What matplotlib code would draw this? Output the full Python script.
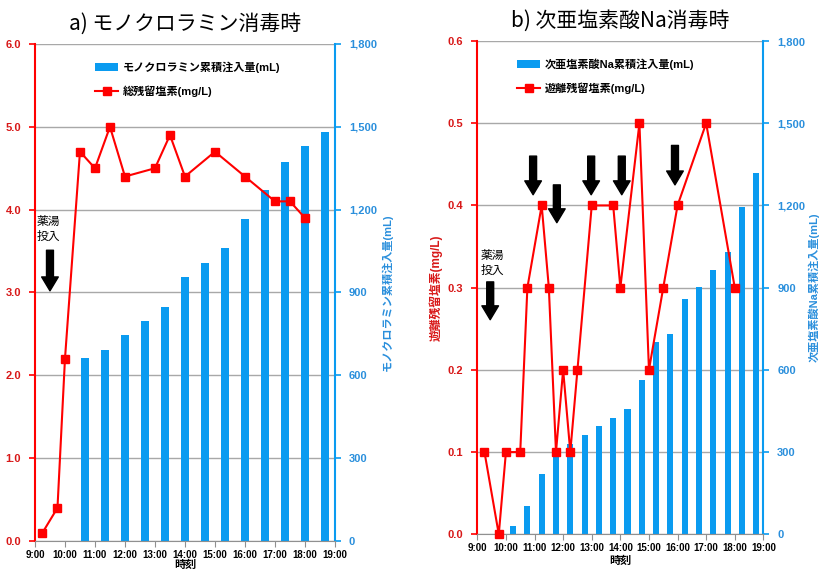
import numpy as np
import matplotlib
matplotlib.use("Agg")
import matplotlib.pyplot as plt
from matplotlib.ticker import FuncFormatter

plt.rcParams['font.family'] = ['Liberation Sans', 'Noto Sans CJK JP']

# ---- data ----
hour_labels = ["9:00", "10:00", "11:00", "12:00", "13:00", "14:00", "15:00",
               "16:00", "17:00", "18:00", "19:00"]

# a) monochloramine
times_a = ["9:15", "9:45", "10:00", "10:30", "11:00", "11:30", "12:00", "13:00",
           "13:30", "14:00", "15:00", "16:00", "17:00", "17:30", "18:00"]
total_cl = [0.1, 0.4, 2.2, 4.7, 4.5, 5.0, 4.4, 4.5, 4.9, 4.4, 4.7, 4.4, 4.1, 4.1, 3.9]
mono_inj = [0, 0, 664, 691, 745, 797, 849, 955, 1007, 1062, 1165, 1272, 1374, 1430, 1481]

# b) sodium hypochlorite
times_b = ["9:15", "9:45", "10:00", "10:30", "10:45", "11:15", "11:30", "11:45",
           "12:00", "12:15", "12:30", "13:00", "13:45", "14:00", "14:40", "15:00",
           "15:30", "16:00", "17:00", "18:00"]
free_cl = [0.1, 0.0, 0.1, 0.1, 0.3, 0.4, 0.3, 0.1, 0.2, 0.1, 0.2, 0.4, 0.4, 0.3,
           0.5, 0.2, 0.3, 0.4, 0.5, 0.3]
naocl_inj = [0, 0, 30, 105, 220, 315, 330, 361, 394, 426, 458, 563, 700, 732,
             860, 902, 965, 1030, 1195, 1320]

# dosing arrows in b) (time, top, tip)
arrows_b = [(10.95, 0.460, 0.413), (11.78, 0.425, 0.379), (12.98, 0.460, 0.413),
            (14.05, 0.460, 0.413), (15.91, 0.473, 0.425)]

RED = '#FF0000'
RED_T = '#D81818'
BLUE = '#0A9BF0'
BLUE_T = '#2A8FDC'


def to_hours(s):
    h, m = s.split(':')
    return int(h) + int(m) / 60


def panel(rect, title, times, line_vals, bar_vals, ymax, ystep, line_label,
          bar_label, ylab_l, ylab_r, leg_anchor, lab_pos):
    ax = fig.add_axes(rect)
    ax2 = ax.twinx()
    ax.set_zorder(ax2.get_zorder() + 1)
    ax.patch.set_visible(False)

    # bars: equal categories across the time span
    n = len(bar_vals)
    bx = 9 + (np.arange(n) + 0.5) * 10 / n
    bars = ax2.bar(bx, bar_vals, width=10 / n * 0.42, color=BLUE, zorder=3,
                   label=bar_label)
    ax2.set_ylim(0, 1800)
    ax2.set_yticks(np.arange(0, 1801, 300))
    ax2.yaxis.set_major_formatter(FuncFormatter(lambda v, p: f"{v:,.0f}"))
    ax2.grid(axis='y', color='#A8A8A8', lw=1, zorder=0)
    ax2.set_axisbelow(True)

    tx = [to_hours(t) for t in times]
    ln, = ax.plot(tx, line_vals, color=RED, lw=1.5, marker='s', ms=5.5,
                  label=line_label, zorder=5, clip_on=False)
    ax.set_ylim(0, ymax)
    ax.set_yticks(np.arange(0, ymax + ystep / 2, ystep))
    ax.yaxis.set_major_formatter(FuncFormatter(lambda v, p: f"{v:.1f}"))
    ax.set_xlim(9, 19)
    ax.set_xticks(np.arange(9, 20))
    ax.set_xticklabels(hour_labels)

    for a in (ax, ax2):
        a.spines['top'].set_visible(False)
    ax.spines['left'].set_color(RED)
    ax.spines['left'].set_linewidth(1.5)
    ax2.spines['left'].set_visible(False)
    ax.spines['right'].set_visible(False)
    ax2.spines['right'].set_color(BLUE)
    ax2.spines['right'].set_linewidth(1.5)
    ax.spines['bottom'].set_color('#909090')
    ax2.spines['bottom'].set_visible(False)

    ax.tick_params(axis='y', colors=RED, labelcolor=RED_T, length=4, width=1.2,
                   pad=6, labelsize=8)
    ax2.tick_params(axis='y', colors=BLUE, labelcolor=BLUE_T, length=4, width=1.2,
                    pad=6, labelsize=8)
    ax.tick_params(axis='x', colors='#909090', labelcolor='black', length=4,
                   pad=2.5, labelsize=7)
    for lab in ax.get_yticklabels() + ax2.get_yticklabels() + ax.get_xticklabels():
        lab.set_fontweight('bold')

    ax.set_title(title, fontsize=15, family=['Noto Sans CJK JP'], pad=10)
    ax.set_ylabel(ylab_l, color=RED_T, fontsize=8.5, fontweight='bold')
    ax.yaxis.set_label_coords(lab_pos[0], 0.5)
    ax2.set_ylabel(ylab_r, color=BLUE_T, fontsize=8, fontweight='bold')
    ax2.yaxis.set_label_coords(lab_pos[1], 0.5)
    ax.set_xlabel("時刻", fontsize=8, fontweight='bold', va='top')
    ax.xaxis.set_label_coords(0.5, lab_pos[2])

    ax.legend(handles=[bars, ln], loc='upper left', bbox_to_anchor=leg_anchor,
              frameon=False, borderpad=0, borderaxespad=0, handlelength=2.1,
              handletextpad=0.4, labelspacing=1.1,
              prop=dict(weight='bold', size=8))
    return ax


def arrow(ax, x, top, tip):
    ax.annotate('', xy=(x, tip), xytext=(x, top),
                arrowprops=dict(arrowstyle='simple,head_width=1.2,head_length=1.0,tail_width=0.5',
                                color='black', shrinkA=0, shrinkB=0,
                                mutation_scale=10))


fig = plt.figure(figsize=(8.21, 5.69), dpi=100)

ax_a = panel([0.0426, 0.0492, 0.3654, 0.8735], "a) モノクロラミン消毒時",
             times_a, total_cl, mono_inj, 6.0, 1.0, "総残留塩素(mg/L)",
             "モノクロラミン累積注入量(mL)", "総残留塩素(mg/L)",
             "モノクロラミン累積注入量(mL)", (0.2, 0.965), (-0.125, 1.155, -0.038))
ax_a.text(9.05, 3.93, "薬湯\n投入", fontsize=8.5, va='top', linespacing=1.15,
          family=['Noto Sans CJK JP'])
arrow(ax_a, 9.5, 3.51, 3.02)

ax_b = panel([0.5814, 0.0610, 0.3484, 0.8669], "b) 次亜塩素酸Na消毒時",
             times_b, free_cl, naocl_inj, 0.6, 0.1, "遊離残留塩素(mg/L)",
             "次亜塩素酸Na累積注入量(mL)", "遊離残留塩素(mg/L)",
             "次亜塩素酸Na累積注入量(mL)", (0.139, 0.965), (-0.12, 1.155, -0.043))
ax_b.text(9.1, 0.347, "薬湯\n投入", fontsize=8.5, va='top', linespacing=1.15,
          family=['Noto Sans CJK JP'])
arrow(ax_b, 9.45, 0.307, 0.261)
for x, top, tip in arrows_b:
    arrow(ax_b, x, top, tip)

fig.savefig("out.png", dpi=100)
